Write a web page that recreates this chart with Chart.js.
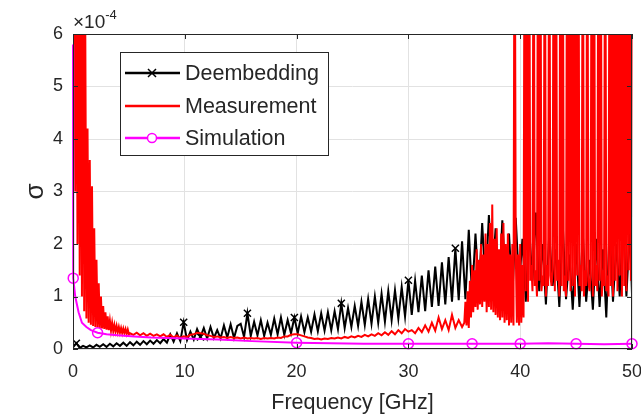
<!DOCTYPE html>
<html>
<head>
<meta charset="utf-8">
<script src="https://cdn.jsdelivr.net/npm/chart.js@4/dist/chart.umd.min.js"></script>
<style>
  body { margin: 0; background: #fff; }
</style>
</head>
<body>
<canvas id="myChart" width="641" height="417"></canvas>
<script>
// sigma values are in units of 1e-4 (axis shows x10^-4)
const xTicks = [0, 10, 20, 30, 40, 50];
const yTicks = [0, 1, 2, 3, 4, 5, 6];
const H = 10; // off-scale spikes (clipped at the top of the axes)

// Deembedding: 0.3 GHz grid
const deFreq = [
  0, 0.3, 0.6, 0.9, 1.2, 1.5, 1.8, 2.1, 2.4, 2.7,
  3, 3.3, 3.6, 3.9, 4.2, 4.5, 4.8, 5.1, 5.4, 5.7,
  6, 6.3, 6.6, 6.9, 7.2, 7.5, 7.8, 8.1, 8.4, 8.7,
  9, 9.3, 9.6, 9.9, 10.2, 10.5, 10.8, 11.1, 11.4, 11.7,
  12, 12.3, 12.6, 12.9, 13.2, 13.5, 13.8, 14.1, 14.4, 14.7,
  15, 15.3, 15.6, 15.9, 16.2, 16.5, 16.8, 17.1, 17.4, 17.7,
  18, 18.3, 18.6, 18.9, 19.2, 19.5, 19.8, 20.1, 20.4, 20.7,
  21, 21.3, 21.6, 21.9, 22.2, 22.5, 22.8, 23.1, 23.4, 23.7,
  24, 24.3, 24.6, 24.9, 25.2, 25.5, 25.8, 26.1, 26.4, 26.7,
  27, 27.3, 27.6, 27.9, 28.2, 28.5, 28.8, 29.1, 29.4, 29.7,
  30, 30.3, 30.6, 30.9, 31.2, 31.5, 31.8, 32.1, 32.4, 32.7,
  33, 33.3, 33.6, 33.9, 34.2, 34.5, 34.8, 35.1, 35.4, 35.7,
  36, 36.3, 36.6, 36.9, 37.2, 37.5, 37.8, 38.1, 38.4, 38.7,
  39, 39.3, 39.6, 39.9, 40.2, 40.5, 40.8, 41.1, 41.4, 41.7,
  42, 42.3, 42.6, 42.9, 43.2, 43.5, 43.8, 44.1, 44.4, 44.7,
  45, 45.3, 45.6, 45.9, 46.2, 46.5, 46.8, 47.1, 47.4, 47.7,
  48, 48.3, 48.6, 48.9, 49.2, 49.5, 49.8, 50
];
const deVals = [
  0.03, 0.11, 0.02, 0.06, 0.03, 0.07, 0.03, 0.08, 0.04, 0.09,
  0.04, 0.1, 0.05, 0.11, 0.06, 0.12, 0.06, 0.13, 0.07, 0.14,
  0.08, 0.15, 0.09, 0.16, 0.1, 0.17, 0.11, 0.19, 0.12, 0.28,
  0.14, 0.3, 0.15, 0.51, 0.17, 0.33, 0.18, 0.38, 0.23, 0.4,
  0.2, 0.42, 0.21, 0.36, 0.2, 0.45, 0.22, 0.47, 0.21, 0.44,
  0.48, 0.23, 0.68, 0.25, 0.52, 0.26, 0.55, 0.25, 0.5, 0.27,
  0.58, 0.28, 0.6, 0.27, 0.55, 0.3, 0.6, 0.3, 0.62, 0.32,
  0.6, 0.33, 0.66, 0.34, 0.68, 0.35, 0.7, 0.36, 0.72, 0.38,
  0.87, 0.4, 0.78, 0.42, 0.82, 0.44, 0.9, 0.46, 0.95, 0.48,
  1.0, 0.5, 1.05, 0.52, 1.1, 0.55, 1.12, 0.58, 1.18, 0.62,
  1.31, 0.65, 1.3, 0.7, 1.4, 0.72, 1.5, 0.8, 1.57, 0.82,
  1.65, 0.85, 1.75, 0.9, 1.92, 0.93, 2.05, 0.95, 2.27, 1.0,
  2.2, 1.1, 2.4, 1.2, 2.55, 1.3, 2.3, 1.1, 2.45, 1.25,
  2.2, 1.0, 2.5, 1.2, 2.1, 0.9, 2.3, 1.3, 2.6, 1.1,
  2.0, 0.85, 2.2, 1.2, 1.9, 0.8, 2.4, 0.95, 1.8, 0.75,
  2.0, 0.8, 2.2, 0.9, 1.7, 0.75, 2.1, 0.8, 1.9, 0.6,
  2.3, 0.9, 2.0, 1.0, 2.5, 1.0, 2.3, 1.05
];
const deMarks = [1, 33, 38, 52, 66, 80, 100, 114];

// Measurement: 0.1 GHz grid below 5 GHz and above 35 GHz, 0.3 GHz grid between
const measFreq = [
  0.1, 0.2, 0.3, 0.4, 0.5, 0.6, 0.7, 0.8, 0.9, 1.0,
  1.1, 1.2, 1.3, 1.4, 1.5, 1.6, 1.7, 1.8, 1.9, 2.0,
  2.1, 2.2, 2.3, 2.4, 2.5, 2.6, 2.7, 2.8, 2.9, 3.0,
  3.1, 3.2, 3.3, 3.4, 3.5, 3.6, 3.7, 3.8, 3.9, 4.0,
  4.1, 4.2, 4.3, 4.4, 4.5, 4.6, 4.7, 4.8, 4.9, 5.0,
  5.1, 5.4, 5.7, 6, 6.3, 6.6, 6.9, 7.2, 7.5, 7.8,
  8.1, 8.4, 8.7, 9, 9.3, 9.6, 9.9, 10.2, 10.5, 10.8,
  11.1, 11.4, 11.7, 12, 12.3, 12.6, 12.9, 13.2, 13.5, 13.8,
  14.1, 14.4, 14.7, 15, 15.3, 15.6, 15.9, 16.2, 16.5, 16.8,
  17.1, 17.4, 17.7, 18, 18.3, 18.6, 18.9, 19.2, 19.5, 19.8,
  20.1, 20.4, 20.7, 21, 21.3, 21.6, 21.9, 22.2, 22.5, 22.8,
  23.1, 23.4, 23.7, 24, 24.3, 24.6, 24.9, 25.2, 25.5, 25.8,
  26.1, 26.4, 26.7, 27, 27.3, 27.6, 27.9, 28.2, 28.5, 28.8,
  29.1, 29.4, 29.7, 30, 30.3, 30.6, 30.9, 31.2, 31.5, 31.8,
  32.1, 32.4, 32.7, 33, 33.3, 33.6, 33.9, 34.2, 34.5, 34.8,
  35.0, 35.1, 35.2, 35.3, 35.4, 35.5, 35.6, 35.7, 35.8, 35.9,
  36.0, 36.1, 36.2, 36.3, 36.4, 36.5, 36.6, 36.7, 36.8, 36.9,
  37.0, 37.1, 37.2, 37.3, 37.4, 37.5, 37.6, 37.7, 37.8, 37.9,
  38.0, 38.1, 38.2, 38.3, 38.4, 38.5, 38.6, 38.7, 38.8, 38.9,
  39.0, 39.1, 39.2, 39.3, 39.4, 39.5, 39.6, 39.7, 39.8, 39.9,
  40.0, 40.1, 40.2, 40.3, 40.4, 40.5, 40.6, 40.7, 40.8, 40.9,
  41.0, 41.1, 41.2, 41.3, 41.4, 41.5, 41.6, 41.7, 41.8, 41.9,
  42.0, 42.1, 42.2, 42.3, 42.4, 42.5, 42.6, 42.7, 42.8, 42.9,
  43.0, 43.1, 43.2, 43.3, 43.4, 43.5, 43.6, 43.7, 43.8, 43.9,
  44.0, 44.1, 44.2, 44.3, 44.4, 44.5, 44.6, 44.7, 44.8, 44.9,
  45.0, 45.1, 45.2, 45.3, 45.4, 45.5, 45.6, 45.7, 45.8, 45.9,
  46.0, 46.1, 46.2, 46.3, 46.4, 46.5, 46.6, 46.7, 46.8, 46.9,
  47.0, 47.1, 47.2, 47.3, 47.4, 47.5, 47.6, 47.7, 47.8, 47.9,
  48.0, 48.1, 48.2, 48.3, 48.4, 48.5, 48.6, 48.7, 48.8, 48.9,
  49.0, 49.1, 49.2, 49.3, 49.4, 49.5, 49.6, 49.7, 49.8, 49.9,
  50.0
];
const measVals = [
  9, 3.0, 9, 2.0, 9, 1.4, 9, 1.0, 9, 0.72,
  6.0, 0.58, 4.2, 0.5, 3.6, 0.46, 3.1, 0.44, 2.3, 0.42,
  1.7, 0.41, 1.25, 0.4, 1.0, 0.39, 0.82, 0.38, 0.7, 0.37,
  0.62, 0.36, 0.54, 0.35, 0.5, 0.34, 0.46, 0.33, 0.44, 0.32,
  0.42, 0.31, 0.4, 0.3, 0.39, 0.3, 0.38, 0.29, 0.37, 0.28,
  0.3, 0.27, 0.31, 0.26, 0.3, 0.25, 0.29, 0.25, 0.28, 0.24,
  0.28, 0.23, 0.27, 0.22, 0.26, 0.21, 0.24, 0.23, 0.27, 0.28,
  0.31, 0.3, 0.29, 0.26, 0.25, 0.23, 0.24, 0.22, 0.23, 0.21,
  0.23, 0.21, 0.22, 0.2, 0.22, 0.2, 0.21, 0.2, 0.21, 0.19,
  0.21, 0.2, 0.21, 0.2, 0.22, 0.21, 0.24, 0.24, 0.27, 0.28,
  0.28, 0.26, 0.24, 0.22, 0.21, 0.19, 0.2, 0.18, 0.2, 0.19,
  0.21, 0.2, 0.22, 0.2, 0.23, 0.21, 0.24, 0.22, 0.25, 0.23,
  0.27, 0.24, 0.28, 0.25, 0.3, 0.26, 0.32, 0.27, 0.34, 0.28,
  0.36, 0.3, 0.38, 0.33, 0.36, 0.3, 0.4, 0.32, 0.45, 0.33,
  0.5, 0.35, 0.6, 0.38, 0.55, 0.36, 0.65, 0.4, 0.55, 0.42,
  0.5, 0.9, 0.45, 1.1, 0.4, 1.3, 0.6, 1.6, 0.7, 1.5,
  0.8, 1.9, 0.75, 1.7, 0.85, 2.0, 0.8, 1.8, 0.9, 2.2,
  0.7, 2.0, 0.8, 2.4, 0.75, 2.75, 0.7, 2.1, 0.65, 2.3,
  0.6, 1.9, 0.55, 2.2, 0.6, 2.4, 0.5, 2.0, 0.55, 2.2,
  0.45, 1.8, 0.5, 2.0, 0.45, H, 1.9, 0.5, 1.8, 0.45,
  2.0, 0.5, 1.6, 0.6, H, 1.1, H, 0.9, H, 1.3,
  1.6, 1.1, H, 1.2, 1.5, 1.0, H, 1.3, H, 1.1,
  1.4, 1.2, H, 1.0, 1.6, 1.2, H, 1.4, 1.2, 1.5,
  H, 1.1, H, 1.3, 1.7, 1.0, H, 1.2, H, 1.1,
  1.4, 1.0, H, 1.3, H, 1.1, H, 1.2, H, 1.0,
  H, 1.4, H, 1.2, 1.6, 1.1, H, 1.0, 1.5, 1.2,
  H, 1.3, 1.1, 1.4, H, 1.0, H, 1.2, 1.6, 1.1,
  H, 1.3, H, 1.0, 1.5, 1.2, H, 1.1, 1.4, 1.0,
  H, 1.2, H, 1.0, H, 1.3, H, 1.1, H, 1.4,
  H, 1.0, H, 1.2, H, 1.1, H, 1.5, H, 1.3,
  H
];

// Simulation
const simFreq = [0, 0.02, 0.2, 0.5, 0.8, 1.2, 1.6, 2.2, 3, 4, 5.5, 7, 10, 13, 16, 20, 23, 26, 30, 33, 35.7, 38, 40, 42.5, 45, 47.5, 50];
const simVals = [5.8, 1.35, 1.0, 0.7, 0.5, 0.42, 0.36, 0.31, 0.28, 0.26, 0.24, 0.22, 0.2, 0.18, 0.15, 0.12, 0.11, 0.1, 0.1, 0.1, 0.1, 0.1, 0.1, 0.11, 0.1, 0.09, 0.1];
const simMarks = [1, 7, 15, 18, 20, 22, 24, 26];

const seriesNames = ['Deembedding', 'Measurement', 'Simulation'];
const seriesColors = ['#000000', '#ff0000', '#ff00ff'];

const fontFam = "'Liberation Sans', Arial, Helvetica, sans-serif";
const axisColor = '#262626';

function toPoints(xs, ys) {
  return xs.map((f, i) => ({ x: f, y: ys[i] }));
}

const framePlugin = {
  id: 'frame',
  afterDatasetsDraw(chart) {
    const { ctx, chartArea: a, scales: { x, y } } = chart;
    ctx.save();
    ctx.strokeStyle = axisColor;
    ctx.lineWidth = 1;
    ctx.beginPath();
    xTicks.forEach(v => {
      const px = Math.round(x.getPixelForValue(v)) + 0.5;
      ctx.moveTo(px, a.bottom); ctx.lineTo(px, a.bottom - 5);
      ctx.moveTo(px, a.top); ctx.lineTo(px, a.top + 5);
    });
    yTicks.forEach(v => {
      const py = Math.round(y.getPixelForValue(v)) + 0.5;
      ctx.moveTo(a.left, py); ctx.lineTo(a.left + 5, py);
      ctx.moveTo(a.right, py); ctx.lineTo(a.right - 5, py);
    });
    ctx.stroke();
    ctx.strokeRect(Math.round(a.left) + 0.5, Math.round(a.top) + 0.5,
      Math.round(a.right - a.left) - 1, Math.round(a.bottom - a.top) - 1);
    ctx.restore();
  },
  afterDraw(chart) {
    const { ctx, chartArea: a } = chart;
    ctx.save();
    // exponent label
    ctx.fillStyle = axisColor;
    ctx.textBaseline = 'alphabetic';
    ctx.textAlign = 'left';
    ctx.font = '19px ' + fontFam;
    ctx.fillText('\u00d710', a.left, a.top - 6);
    const w = ctx.measureText('\u00d710').width;
    ctx.font = '13px ' + fontFam;
    ctx.fillText('-4', a.left + w, a.top - 15);

    // legend box
    const bx = 120, by = 52, bw = 208, bh = 103;
    ctx.fillStyle = '#ffffff';
    ctx.fillRect(bx, by, bw, bh);
    ctx.strokeStyle = axisColor;
    ctx.lineWidth = 1;
    ctx.strokeRect(bx + 0.5, by + 0.5, bw, bh);
    const rows = [73, 106, 138];
    ctx.font = '21.5px ' + fontFam;
    ctx.textBaseline = 'middle';
    seriesNames.forEach((name, i) => {
      const ly = rows[i];
      ctx.strokeStyle = seriesColors[i];
      ctx.lineWidth = 2.5;
      ctx.beginPath();
      ctx.moveTo(125, ly); ctx.lineTo(180, ly);
      ctx.stroke();
      ctx.lineWidth = 1.5;
      if (i === 0) {
        ctx.beginPath();
        ctx.moveTo(148, ly - 4); ctx.lineTo(156, ly + 4);
        ctx.moveTo(156, ly - 4); ctx.lineTo(148, ly + 4);
        ctx.stroke();
      } else if (i === 2) {
        ctx.fillStyle = '#ffffff';
        ctx.beginPath();
        ctx.arc(152, ly, 4.5, 0, Math.PI * 2);
        ctx.fill();
        ctx.stroke();
      }
      ctx.fillStyle = axisColor;
      ctx.fillText(name, 185, ly + 1);
    });
    ctx.restore();
  }
};

const markRadius = marks => c => (marks.includes(c.dataIndex) ? 5 : 0);

new Chart(document.getElementById('myChart').getContext('2d'), {
  type: 'line',
  data: {
    datasets: [
      {
        label: seriesNames[0],
        data: toPoints(deFreq, deVals),
        borderColor: seriesColors[0],
        backgroundColor: seriesColors[0],
        borderWidth: 2,
        pointStyle: 'crossRot',
        pointRadius: markRadius(deMarks),
        pointBorderWidth: 1.5,
        pointBorderColor: seriesColors[0],
        order: 3
      },
      {
        label: seriesNames[1],
        data: toPoints(measFreq, measVals),
        borderColor: seriesColors[1],
        backgroundColor: seriesColors[1],
        borderWidth: 2,
        pointRadius: 0,
        clip: { left: 2, top: 0, right: 2, bottom: 2 },
        order: 2
      },
      {
        label: seriesNames[2],
        data: toPoints(simFreq, simVals),
        borderColor: seriesColors[2],
        backgroundColor: 'transparent',
        borderWidth: 2,
        pointStyle: 'circle',
        pointRadius: markRadius(simMarks),
        pointBorderWidth: 1.5,
        pointBorderColor: seriesColors[2],
        pointBackgroundColor: 'rgba(255,255,255,0)',
        clip: { left: 8, top: 0, right: 8, bottom: 8 },
        order: 1
      }
    ]
  },
  options: {
    responsive: false,
    animation: false,
    layout: { autoPadding: false, padding: { top: 34, right: 9, left: 0, bottom: 0 } },
    plugins: { legend: { display: false }, tooltip: { enabled: false } },
    elements: { line: { tension: 0 } },
    scales: {
      x: {
        type: 'linear',
        min: 0,
        max: 50,
        afterFit: s => { s.height = 68; s.paddingLeft = 0; s.paddingRight = 0; },
        afterBuildTicks: s => { s.ticks = xTicks.map(v => ({ value: v })); },
        grid: { color: '#e2e2e2', drawTicks: false },
        border: { display: false },
        ticks: { padding: 12, color: axisColor, font: { family: fontFam, size: 18 }, maxRotation: 0 },
        title: { display: true, text: 'Frequency [GHz]', color: axisColor,
          font: { family: fontFam, size: 21.5 }, padding: { top: 0, bottom: 1 } }
      },
      y: {
        min: 0,
        max: 6,
        afterFit: s => { s.width = 73; s.paddingTop = 0; s.paddingBottom = 0; },
        afterBuildTicks: s => { s.ticks = yTicks.map(v => ({ value: v })); },
        grid: { color: '#e2e2e2', drawTicks: false },
        border: { display: false },
        ticks: { padding: 10, color: axisColor, font: { family: fontFam, size: 18 } },
        title: { display: true, text: '\u03c3', color: axisColor,
          font: { family: fontFam, size: 26 }, padding: { top: 20, bottom: 0 } }
      }
    }
  },
  plugins: [framePlugin]
});
</script>
</body>
</html>
